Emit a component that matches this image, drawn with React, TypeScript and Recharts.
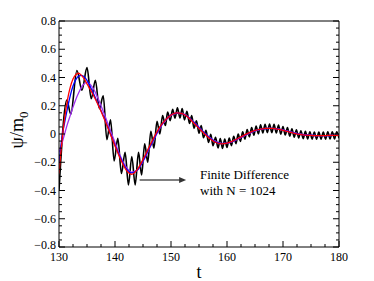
import React from 'react'
import { LineChart, Line, XAxis, YAxis, ReferenceLine } from 'recharts'

const FONT = 'Liberation Serif, DejaVu Serif, Times, serif'

// tick positions (majors get labels)
const xTicks = [130, 132.5, 135, 137.5, 140, 142.5, 145, 147.5, 150, 152.5, 155, 157.5, 160, 162.5, 165, 167.5, 170, 172.5, 175, 177.5, 180]
const yTicks = [
  -0.8, -0.75, -0.7, -0.65, -0.6, -0.55, -0.5, -0.45, -0.4, -0.35, -0.3, -0.25, -0.2, -0.15, -0.1, -0.05, 0,
  0.05, 0.1, 0.15, 0.2, 0.25, 0.3, 0.35, 0.4, 0.45, 0.5, 0.55, 0.6, 0.65, 0.7, 0.75, 0.8,
]

// finite difference run (black), sampled at its peaks and troughs
const tFD = [
  130, 131.4, 132.1, 133.2, 134.1, 135.0, 135.75, 136.5, 137.2, 137.9, 138.55, 139.2, 139.85, 140.5, 141.15, 141.8,
  142.4, 143.0, 143.6, 144.2, 144.75, 145.3, 145.85, 146.4, 146.95, 147.5, 148.0, 148.5, 149.0, 149.4, 149.85, 150.3,
  150.7, 151.15, 151.6, 152.0, 152.4, 152.85, 153.3, 153.7, 154.1, 154.55, 155.0, 155.4, 155.8, 156.25, 156.7, 157.1,
  157.5, 157.95, 158.4, 158.8, 159.2, 159.6, 160.0, 160.4, 160.8, 161.2, 161.6, 162.0, 162.4, 162.8, 163.2, 163.6,
  164.0, 164.4, 164.8, 165.2, 165.6, 166.0, 166.4, 166.8, 167.2, 167.6, 168.0, 168.4, 168.8, 169.2, 169.6, 170.0,
  170.4, 170.8, 171.2, 171.6, 172.0, 172.4, 172.8, 173.2, 173.6, 174.0, 174.4, 174.8, 175.2, 175.6, 176.0, 176.4,
  176.8, 177.2, 177.6, 178.0, 178.4, 178.8, 179.2, 179.6, 180.0,
]
const vFD = [
  -0.4, 0.24, 0.14, 0.45, 0.31, 0.47, 0.25, 0.38, 0.18, 0.27, -0.04, 0.1, -0.19, -0.03, -0.28, -0.13,
  -0.36, -0.16, -0.36, -0.13, -0.29, -0.07, -0.2, 0.02, -0.1, 0.09, 0.0, 0.13, 0.06, 0.155, 0.095, 0.175,
  0.112, 0.185, 0.113, 0.18, 0.1, 0.16, 0.075, 0.13, 0.04, 0.093, 0.005, 0.06, -0.027, 0.026, -0.06, -0.003,
  -0.083, -0.024, -0.099, -0.033, -0.102, -0.036, -0.095, -0.029, -0.083, -0.016, -0.068, 0.0, -0.052, 0.016, -0.036, 0.032,
  -0.02, 0.046, -0.008, 0.057, 0.001, 0.065, 0.007, 0.069, 0.01, 0.07, 0.01, 0.068, 0.007, 0.063, -0.001, 0.053,
  -0.007, 0.045, -0.015, 0.036, -0.022, 0.029, -0.028, 0.023, -0.033, 0.019, -0.035, 0.016, -0.036, 0.014, -0.037, 0.013,
  -0.037, 0.013, -0.036, 0.015, -0.035, 0.015, -0.035, 0.015, -0.03,
]

// smooth solutions
const tSmooth = [
  130, 130.5, 131, 131.5, 132, 132.5, 133, 133.5, 134, 134.5, 135, 136, 137, 138, 139, 140, 141, 142, 143, 144, 145,
  146, 147, 148, 149, 150, 151, 152, 153, 154, 155, 156, 157, 158, 159, 160, 161, 162, 163, 164, 165, 166, 167, 168,
  169, 170, 171, 172, 173, 174, 175, 176, 177, 178, 179, 180,
]
const vRed = [
  -0.28, -0.06, 0.11, 0.24, 0.33, 0.39, 0.42, 0.43, 0.415, 0.39, 0.355, 0.285, 0.205, 0.115, 0.015, -0.085, -0.18, -0.255, -0.285, -0.25, -0.18,
  -0.1, -0.02, 0.05, 0.1, 0.135, 0.15, 0.145, 0.12, 0.08, 0.04, 0.0, -0.035, -0.06, -0.07, -0.065, -0.05, -0.03, -0.01, 0.01, 0.025, 0.035, 0.04, 0.04,
  0.035, 0.025, 0.015, 0.005, -0.003, -0.008, -0.01, -0.012, -0.012, -0.01, -0.01, -0.01,
]
const vBlue = [
  -0.21, -0.03, 0.08, 0.18, 0.27, 0.34, 0.385, 0.41, 0.415, 0.405, 0.38, 0.3, 0.21, 0.12, 0.02, -0.08, -0.17, -0.245, -0.275, -0.255, -0.19,
  -0.11, -0.03, 0.045, 0.1, 0.135, 0.148, 0.145, 0.122, 0.085, 0.045, 0.005, -0.03, -0.057, -0.068, -0.065, -0.052, -0.032, -0.012, 0.008, 0.024, 0.034, 0.039, 0.04,
  0.036, 0.027, 0.017, 0.007, -0.002, -0.007, -0.01, -0.011, -0.012, -0.011, -0.01, -0.01,
]
const vPurple = [
  -0.13, -0.07, 0.0, 0.07, 0.13, 0.19, 0.245, 0.29, 0.33, 0.355, 0.365, 0.33, 0.25, 0.15, 0.045, -0.06, -0.16, -0.235, -0.27, -0.255, -0.195,
  -0.115, -0.035, 0.04, 0.095, 0.132, 0.147, 0.145, 0.123, 0.088, 0.048, 0.008, -0.027, -0.054, -0.067, -0.066, -0.054, -0.035, -0.015, 0.005, 0.022, 0.033, 0.039, 0.04,
  0.037, 0.029, 0.019, 0.009, 0.0, -0.006, -0.009, -0.011, -0.012, -0.011, -0.01, -0.01,
]

const fdData = tFD.map((t, i) => ({ t, v: vFD[i] }))
const redData = tSmooth.map((t, i) => ({ t, v: vRed[i] }))
const blueData = tSmooth.map((t, i) => ({ t, v: vBlue[i] }))
const purpleData = tSmooth.map((t, i) => ({ t, v: vPurple[i] }))

const isMajorX = (v: number) => v % 10 === 0
const isMajorY = (v: number) => Math.round(v * 100) % 20 === 0
const fmtY = (v: number) => (v === 0 ? '0' : v.toFixed(1).replace('-', '\u2212'))

const MAJ = 6
const MIN = 3

const LeftTick = (p: any) => {
  const v = p.payload.value
  const ax = p.x + 3
  const major = isMajorY(v)
  return (
    <g>
      <line x1={ax} x2={ax + (major ? MAJ : MIN)} y1={p.y} y2={p.y} stroke="#000" />
      {major && (
        <text x={p.x} y={p.y} dy={v === -0.8 ? 2 : 4} textAnchor="end" fontSize={12} fontFamily={FONT} fill="#000">
          {fmtY(v)}
        </text>
      )}
    </g>
  )
}

const RightTick = (p: any) => {
  const major = isMajorY(p.payload.value)
  return <line x1={p.x} x2={p.x - (major ? MAJ : MIN)} y1={p.y} y2={p.y} stroke="#000" />
}

const BottomTick = (p: any) => {
  const v = p.payload.value
  const ay = p.y - 3
  const major = isMajorX(v)
  return (
    <g>
      <line x1={p.x} x2={p.x} y1={ay} y2={ay - (major ? MAJ : MIN)} stroke="#000" />
      {major && (
        <text x={p.x} y={ay + 14} textAnchor="middle" fontSize={12} fontFamily={FONT} fill="#000">
          {v}
        </text>
      )}
    </g>
  )
}

const TopTick = (p: any) => {
  const major = isMajorX(p.payload.value)
  return <line x1={p.x} x2={p.x} y1={p.y} y2={p.y + (major ? MAJ : MIN)} stroke="#000" />
}

const Arrow = (p: any) => {
  const { x1, y1, x2, y2 } = p
  return (
    <g>
      <line x1={x1} y1={y1} x2={x2 - 5} y2={y2} stroke="#555" strokeWidth={1.5} />
      <polygon points={`${x2},${y2} ${x2 - 7},${y2 - 3} ${x2 - 7},${y2 + 3}`} fill="#333" />
    </g>
  )
}

export default function App() {
  return (
    <div style={{ position: 'absolute', left: 0, top: 0, width: 374, height: 281, background: '#fff', fontFamily: FONT }}>
      <LineChart width={374} height={281} margin={{ top: 16, right: 30, bottom: 4, left: 0 }}>
        <XAxis
          dataKey="t"
          type="number"
          domain={[130, 180]}
          ticks={xTicks}
          interval={0}
          allowDataOverflow
          height={30}
          tickSize={0}
          tickMargin={3}
          tickLine={false}
          tick={<BottomTick />}
          axisLine={{ stroke: '#000' }}
        />
        <XAxis
          xAxisId="top"
          orientation="top"
          type="number"
          domain={[130, 180]}
          ticks={xTicks}
          interval={0}
          allowDataOverflow
          height={5}
          tickSize={0}
          tickMargin={0}
          tickLine={false}
          tick={<TopTick />}
          axisLine={{ stroke: '#000' }}
        />
        <YAxis
          type="number"
          domain={[-0.8, 0.8]}
          ticks={yTicks}
          interval={0}
          allowDataOverflow
          width={59}
          tickSize={0}
          tickMargin={3}
          tickLine={false}
          tick={<LeftTick />}
          axisLine={{ stroke: '#000' }}
        />
        <YAxis
          yAxisId="right"
          orientation="right"
          type="number"
          domain={[-0.8, 0.8]}
          ticks={yTicks}
          interval={0}
          allowDataOverflow
          width={5}
          tickSize={0}
          tickMargin={0}
          tickLine={false}
          tick={<RightTick />}
          axisLine={{ stroke: '#000' }}
        />
        <Line data={fdData} dataKey="v" type="monotone" stroke="#000" strokeWidth={1.6} dot={false} isAnimationActive={false} />
        <Line data={purpleData} dataKey="v" type="monotone" stroke="#a030f0" strokeWidth={1.3} dot={false} isAnimationActive={false} />
        <Line data={blueData} dataKey="v" type="monotone" stroke="#0000ff" strokeWidth={1.3} dot={false} isAnimationActive={false} />
        <Line data={redData} dataKey="v" type="monotone" stroke="#ff0000" strokeWidth={1.3} dot={false} isAnimationActive={false} />
        <ReferenceLine
          segment={[{ x: 144.4, y: -0.325 }, { x: 152.7, y: -0.325 }]}
          shape={<Arrow />}
          ifOverflow="visible"
        />
      </LineChart>
      <svg width={374} height={281} style={{ position: 'absolute', left: 0, top: 0, pointerEvents: 'none' }}>
        <text x={200} y={179} fontSize={13} fontFamily={FONT} fill="#000">Finite Difference</text>
        <text x={200} y={195} fontSize={13} fontFamily={FONT} fill="#000">with N = 1024</text>
        <text x={199} y={278} textAnchor="middle" fontSize={18} fontFamily={FONT} fill="#000">t</text>
        <text transform="translate(23,130) rotate(-90)" textAnchor="middle" fontSize={18} fontFamily={FONT} fill="#000">
          ψ/m<tspan fontSize={13} dy={5}>0</tspan>
        </text>
      </svg>
    </div>
  )
}
